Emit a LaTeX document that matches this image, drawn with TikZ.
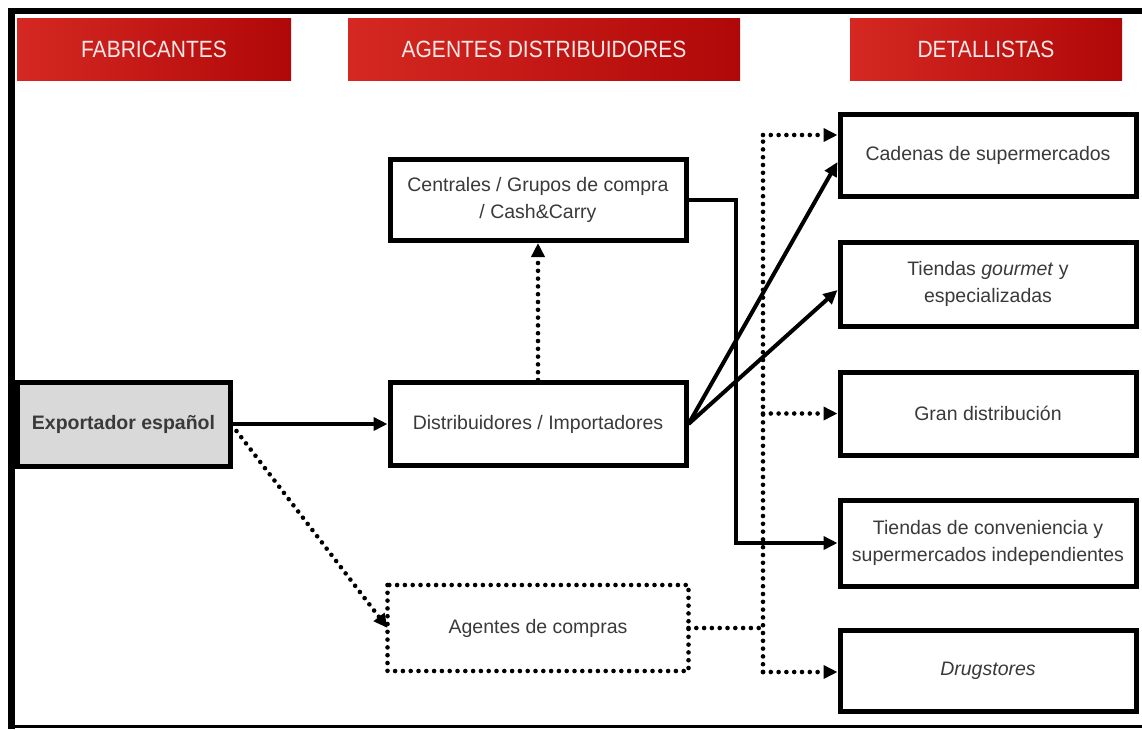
\documentclass[tikz,border=0pt]{standalone}
\usepackage{fontspec}
\usepackage{graphicx}
\setmainfont{Liberation Sans}
\usetikzlibrary{arrows.meta,calc}

\definecolor{hdrlight}{HTML}{D52822}
\definecolor{hdrdark}{HTML}{B00808}
\definecolor{hdrtext}{HTML}{FBE8E8}
\definecolor{boxtext}{HTML}{3A3A3A}
\definecolor{exportfill}{HTML}{D9D9D9}

\tikzset{
  header/.style={shading=axis, left color=hdrlight, right color=hdrdark,
    text=hdrtext, inner sep=0pt, minimum height=62pt,
    font=\fontsize{21}{24}\selectfont},
  flowbox/.style={draw, line width=5pt, fill=white, text=boxtext,
    inner sep=0pt, align=center, minimum width=296pt,
    font=\fontsize{19.5}{26.5}\selectfont},
  dotbox/.style={flowbox, draw=none},
  solidlink/.style={line width=4pt, -{Triangle[length=14pt,width=13pt]}},
  dotline/.style={line width=4.6pt, dash pattern=on 0pt off 7.8pt, line cap=round},
  dotlink/.style={dotline, -{Triangle[length=14pt,width=13pt]}},
}

\begin{document}
\begin{tikzpicture}[x=1pt,y=-1pt]
  \useasboundingbox (0,0) rectangle (1142,729);
  \fill[white] (0,0) rectangle (1142,729);

  % outer frame
  \fill[black] (8,8) rectangle (1142,14);
  \fill[black] (8,8) rectangle (15,729);
  \fill[black] (8,725) rectangle (1142,728);

  % column headers
  \node[header, minimum width=274pt] (hfab) at (154,49) {\scalebox{1}[1.12]{FABRICANTES}};
  \node[header, minimum width=392pt] (hage) at (544,49) {\scalebox{1}[1.12]{AGENTES DISTRIBUIDORES}};
  \node[header, minimum width=272pt] (hdet) at (986,49) {\scalebox{1}[1.12]{DETALLISTAS}};

  % manufacturer
  \node[flowbox, fill=exportfill, minimum width=213pt, minimum height=84pt,
        font=\fontsize{19.5}{24}\selectfont\bfseries] (exp) at (123.5,424)
        {Exportador español};

  % distribution agents
  \node[flowbox, minimum height=81pt] (cen) at (538,200)
        {Centrales / Grupos de compra\\/ Cash\&Carry};
  \node[flowbox, minimum height=83pt] (dis) at (538,424)
        {Distribuidores / Importadores};
  \node[dotbox, minimum height=81pt] (agc) at (538,628) {Agentes de compras};
  \draw[dotline] (agc.north west) rectangle (agc.south east);

  % retailers
  \node[flowbox, minimum height=82pt] (cad) at (988,155) {Cadenas de supermercados};
  \node[flowbox, minimum height=84pt] (gou) at (988,284) {Tiendas \textit{gourmet} y\\especializadas};
  \node[flowbox, minimum height=83pt] (gra) at (988,413.5) {Gran distribución};
  \node[flowbox, minimum height=86pt] (con) at (988,543) {Tiendas de conveniencia y\\supermercados independientes};
  \node[flowbox, minimum height=81pt] (dru) at (988,670.5) {\textit{Drugstores}};

  % solid flows
  \draw[solidlink] (exp.east) -- (dis.west);
  \draw[solidlink] (dis.east) -- ([yshift=-7pt]cad.west);
  \draw[solidlink] (dis.east) -- ([yshift=-6pt]gou.west);
  \draw[solidlink] (cen.east) -- ++(47,0) |- (con.west);

  % dotted flows
  \draw[dotlink] ([xshift=4pt,yshift=-7pt]exp.east) -- (agc.west);
  \draw[dotlink] (dis.north) -- (cen.south);

  \coordinate (bt) at (763,135);
  \coordinate (bb) at (763,672);
  \draw[dotline] (agc.east) -- (agc.east -| bt);
  \draw[dotline] (bb) -- (bt);
  \draw[dotlink] (bt) -- (bt -| cad.west);
  \draw[dotlink] (bt |- gra.west) -- (gra.west);
  \draw[dotlink] (bb) -- (bb -| dru.west);
\end{tikzpicture}
\end{document}
